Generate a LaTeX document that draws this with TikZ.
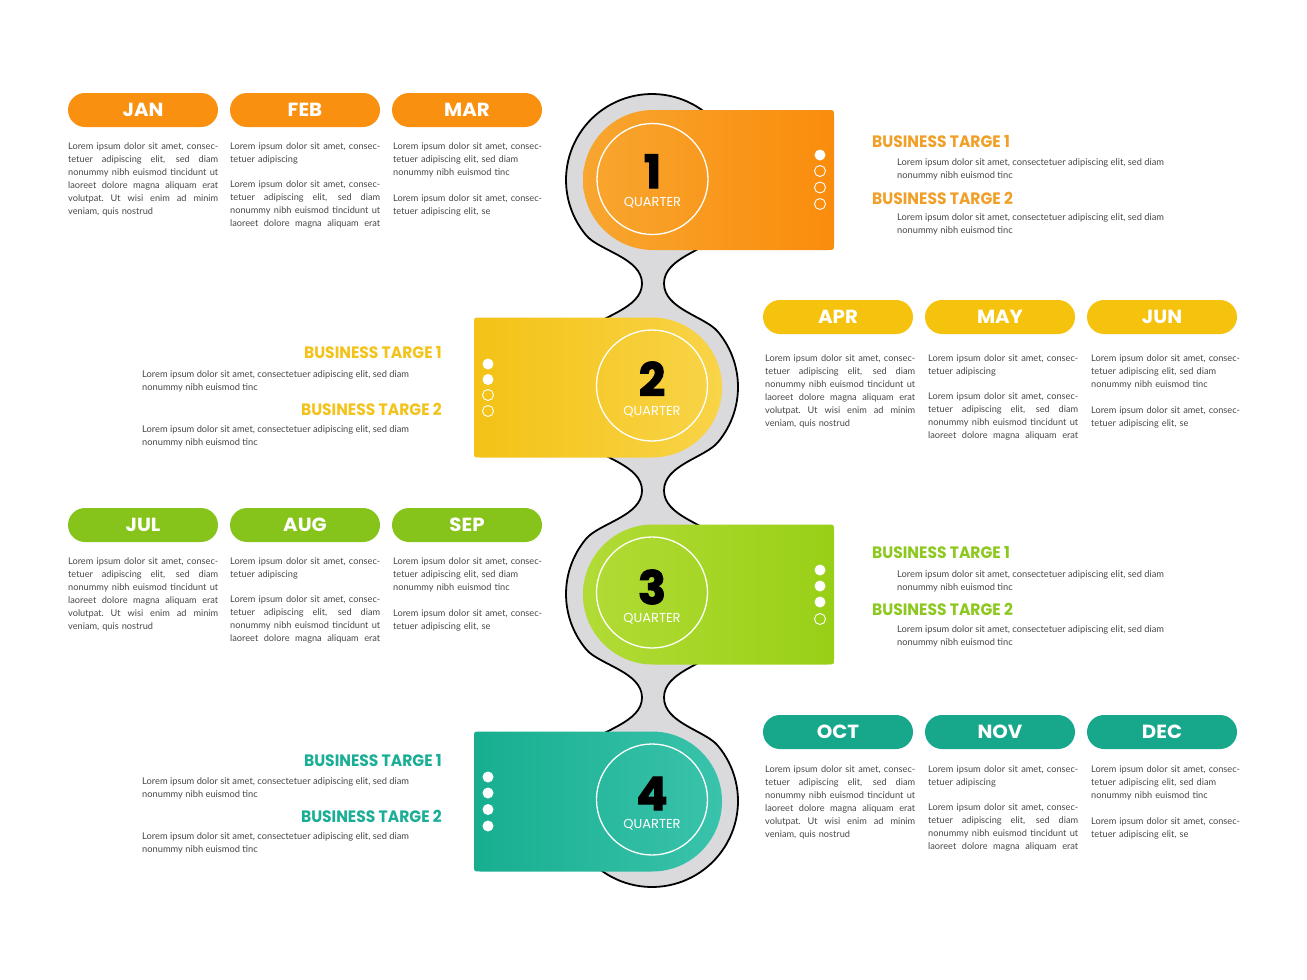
\documentclass[tikz,border=0pt]{standalone}
\usepackage{fontspec}
\setmainfont{Lato}
\newfontfamily\popfont{Poppins}
\newfontfamily\numfont[FakeBold=2.5]{Poppins}
\newfontfamily\headfont[FakeStretch=0.94]{Poppins}
\newfontfamily\pillfont[FakeStretch=1.04]{Poppins}
\usetikzlibrary{calc}
\definecolor{orP}{HTML}{F9900F}
\definecolor{orL}{HTML}{F8A630}
\definecolor{orR}{HTML}{FA8C0C}
\definecolor{orT}{HTML}{F0A028}
\definecolor{yeP}{HTML}{F5C30E}
\definecolor{yeL}{HTML}{F4C216}
\definecolor{yeR}{HTML}{F8D448}
\definecolor{yeT}{HTML}{F3C31C}
\definecolor{grP}{HTML}{86C41C}
\definecolor{grL}{HTML}{B2DB36}
\definecolor{grR}{HTML}{98D016}
\definecolor{grT}{HTML}{8DC81F}
\definecolor{tePp}{HTML}{17A88C}
\definecolor{teL}{HTML}{17AE90}
\definecolor{teR}{HTML}{3AC3AC}
\definecolor{teT}{HTML}{1AAE96}
\definecolor{chaingray}{HTML}{DADADC}
\definecolor{bodygray}{HTML}{484848}
\newcommand\jline[1]{{\spaceskip=0.3333em plus 1em minus 0.12em\xspaceskip=\spaceskip\makebox[150pt][s]{#1}}}
\newcommand\txtA{\jline{Lorem ipsum dolor sit amet, consec-}\\
\jline{tetuer adipiscing elit, sed diam}\\
\jline{nonummy nibh euismod tincidunt ut}\\
\jline{laoreet dolore magna aliquam erat}\\
\jline{volutpat. Ut wisi enim ad minim}\\
veniam, quis nostrud}
\newcommand\txtB{\jline{Lorem ipsum dolor sit amet, consec-}\\
tetuer adipiscing\\[12pt]
\jline{Lorem ipsum dolor sit amet, consec-}\\
\jline{tetuer adipiscing elit, sed diam}\\
\jline{nonummy nibh euismod tincidunt ut}\\
\jline{laoreet dolore magna aliquam erat}}
\newcommand\txtC{Lorem ipsum dolor sit amet, consec-\\
tetuer adipiscing elit, sed diam\\
nonummy nibh euismod tinc\\[13pt]
Lorem ipsum dolor sit amet, consec-\\
tetuer adipiscing elit, se}
\newcommand\txtT{Lorem ipsum dolor sit amet, consectetuer adipiscing elit, sed diam\\
nonummy nibh euismod tinc}
\newcommand\rblock[3]{%
 \path[left color=#2, right color=#3] (653,#1-70) -- (828,#1-70) .. controls (834,#1-70) .. (834,#1-64) -- (834,#1+64) .. controls (834,#1+70) .. (828,#1+70) -- (653,#1+70) .. controls (614.3,#1+70) and (583,#1+38.66) .. (583,#1) .. controls (583,#1-38.66) and (614.3,#1-70) .. (653,#1-70) -- cycle;}
\newcommand\lblock[3]{%
 \path[left color=#2, right color=#3] (652,#1-70) -- (480,#1-70) .. controls (474,#1-70) .. (474,#1-64) -- (474,#1+64) .. controls (474,#1+70) .. (480,#1+70) -- (652,#1+70) .. controls (690.7,#1+70) and (722,#1+38.66) .. (722,#1) .. controls (722,#1-38.66) and (690.7,#1-70) .. (652,#1-70) -- cycle;}
\begin{document}
\begin{tikzpicture}[x=1pt,y=-1pt,
  pill/.style={rounded corners=17pt, minimum width=150pt, minimum height=34pt, inner sep=0pt, text=white, font=\pillfont\bfseries\fontsize{19}{19}\selectfont},
  body/.style={anchor=north west, inner sep=0pt, align=left, text width=152pt, text=bodygray, font=\fontsize{9.2}{13}\selectfont},
  btext/.style={anchor=north west, inner sep=0pt, align=left, text=bodygray, font=\fontsize{9.3}{13}\selectfont},
  ttl/.style={inner sep=0pt, font=\headfont\bfseries\fontsize{16.5}{16.5}\selectfont},
  num/.style={inner sep=0pt, anchor=base, text height=33pt, text depth=0pt, text=black, font=\numfont\bfseries\fontsize{46}{46}\selectfont},
  qtr/.style={inner sep=0pt, anchor=base, text height=9pt, text depth=0pt, text=white, font=\popfont\fontsize{13}{13}\selectfont},
  dotf/.style={fill=white},
  doto/.style={draw=white, line width=0.9pt},
  ring/.style={draw=white, line width=1.3pt},
  chainline/.style={line width=1.8pt, line join=round}]
\useasboundingbox (0,0) rectangle (1307,980);
\fill[white] (0,0) rectangle (1307,980);

% chain of four circles joined by necks (one closed outline)
\draw[fill=chaingray, chainline] (586.1,235.3)
 -- plot[domain=140:400, samples=80, variable=\t] ({652+86*cos(\t)},{180+86*sin(\t)})
 .. controls (705.1,250.6) and (664,258) .. (664,283.5) .. controls (664,309) and (705.1,316.4) .. (717.9,331.7)
 -- plot[domain=-40:40, samples=30, variable=\t] ({652+86*cos(\t)},{387+86*sin(\t)})
 .. controls (705.1,457.6) and (664,465) .. (664,490.5) .. controls (664,516) and (705.1,523.4) .. (717.9,538.7)
 -- plot[domain=-40:40, samples=30, variable=\t] ({652+86*cos(\t)},{594+86*sin(\t)})
 .. controls (705.1,664.6) and (664,672) .. (664,697.5) .. controls (664,723) and (705.1,730.4) .. (717.9,745.7)
 -- plot[domain=-40:220, samples=80, variable=\t] ({652+86*cos(\t)},{801+86*sin(\t)})
 .. controls (598.9,730.4) and (642,723) .. (642,697.5) .. controls (642,672) and (598.9,664.6) .. (586.1,649.3)
 -- plot[domain=140:220, samples=30, variable=\t] ({652+86*cos(\t)},{594+86*sin(\t)})
 .. controls (598.9,523.4) and (642,516) .. (642,490.5) .. controls (642,465) and (598.9,457.6) .. (586.1,442.3)
 -- plot[domain=140:220, samples=30, variable=\t] ({652+86*cos(\t)},{387+86*sin(\t)})
 .. controls (598.9,316.4) and (642,309) .. (642,283.5) .. controls (642,258) and (598.9,250.6) .. (586.1,235.3)
 -- cycle;

% blocks
\rblock{180}{orL}{orR}
\lblock{387.5}{yeL}{yeR}
\rblock{594.5}{grL}{grR}
\lblock{801.5}{teL}{teR}

% rings, numbers
\draw[ring] (652.5,179) circle[radius=55.5];
\node[num] (n1) at (652.5,188) {1};
\node[qtr] (q1) at (652.5,206) {QUARTER};
\draw[ring] (652,385.5) circle[radius=55.5];
\node[num] (n2) at (652,396) {2};
\node[qtr] (q2) at (652,415) {QUARTER};
\draw[ring] (652,592.5) circle[radius=55.5];
\node[num] (n3) at (652,604) {3};
\node[qtr] (q3) at (652,622) {QUARTER};
\draw[ring] (652,799.5) circle[radius=55.5];
\node[num] (n4) at (652,810) {4};
\node[qtr] (q4) at (652,828) {QUARTER};

% dots
\fill[dotf] (820,155) circle[radius=5.5];
\draw[doto] (820,171) circle[radius=5.5];
\draw[doto] (820,187.5) circle[radius=5.5];
\draw[doto] (820,204) circle[radius=5.5];
\fill[dotf] (488,364) circle[radius=5.5];
\fill[dotf] (488,379.5) circle[radius=5.5];
\draw[doto] (488,395) circle[radius=5.5];
\draw[doto] (488,411) circle[radius=5.5];
\fill[dotf] (820,570) circle[radius=5.5];
\fill[dotf] (820,586) circle[radius=5.5];
\fill[dotf] (820,602) circle[radius=5.5];
\draw[doto] (820,619) circle[radius=5.5];
\fill[dotf] (488,777) circle[radius=5.5];
\fill[dotf] (488,793) circle[radius=5.5];
\fill[dotf] (488,809.5) circle[radius=5.5];
\fill[dotf] (488,826) circle[radius=5.5];

% month pills
\node[pill, fill=orP] (jan) at (143,110) {JAN};
\node[pill, fill=orP] (feb) at (305,110) {FEB};
\node[pill, fill=orP] (mar) at (467,110) {MAR};
\node[pill, fill=yeP] (apr) at (838,317) {APR};
\node[pill, fill=yeP] (may) at (1000,317) {MAY};
\node[pill, fill=yeP] (jun) at (1162,317) {JUN};
\node[pill, fill=grP] (jul) at (143,525) {JUL};
\node[pill, fill=grP] (aug) at (305,525) {AUG};
\node[pill, fill=grP] (sep) at (467,525) {SEP};
\node[pill, fill=tePp] (oct) at (838,732) {OCT};
\node[pill, fill=tePp] (nov) at (1000,732) {NOV};
\node[pill, fill=tePp] (dec) at (1162,732) {DEC};

% month texts
\node[body] (tjan) at (68,142.5) {\txtA};
\node[body] (tfeb) at (230,142.5) {\txtB};
\node[body] (tmar) at (393,142.5) {\txtC};
\node[body] (tapr) at (765,354.5) {\txtA};
\node[body] (tmay) at (928,354.5) {\txtB};
\node[body] (tjun) at (1091,354.5) {\txtC};
\node[body] (tjul) at (68,557.5) {\txtA};
\node[body] (taug) at (230,557.5) {\txtB};
\node[body] (tsep) at (393,557.5) {\txtC};
\node[body] (toct) at (765,765.5) {\txtA};
\node[body] (tnov) at (928,765.5) {\txtB};
\node[body] (tdec) at (1091,765.5) {\txtC};

% business targets
\node[ttl, text=orT, anchor=west] (b11) at (872,142) {BUSINESS TARGE 1};
\node[btext] (l11) at (897,158.5) {\txtT};
\node[ttl, text=orT, anchor=west] (b12) at (872,198) {BUSINESS TARGE 2};
\node[btext] (l12) at (897,213.5) {\txtT};

\node[ttl, text=yeT, anchor=east] (b21) at (442,353) {BUSINESS TARGE 1};
\node[btext] (l21) at (142,370.5) {\txtT};
\node[ttl, text=yeT, anchor=east] (b22) at (442,409) {BUSINESS TARGE 2};
\node[btext] (l22) at (142,425.5) {\txtT};

\node[ttl, text=grT, anchor=west] (b31) at (872,553) {BUSINESS TARGE 1};
\node[btext] (l31) at (897,570.5) {\txtT};
\node[ttl, text=grT, anchor=west] (b32) at (872,609) {BUSINESS TARGE 2};
\node[btext] (l32) at (897,625.5) {\txtT};

\node[ttl, text=teT, anchor=east] (b41) at (442,761) {BUSINESS TARGE 1};
\node[btext] (l41) at (142,777.5) {\txtT};
\node[ttl, text=teT, anchor=east] (b42) at (442,816) {BUSINESS TARGE 2};
\node[btext] (l42) at (142,832.5) {\txtT};
\end{tikzpicture}
\end{document}
